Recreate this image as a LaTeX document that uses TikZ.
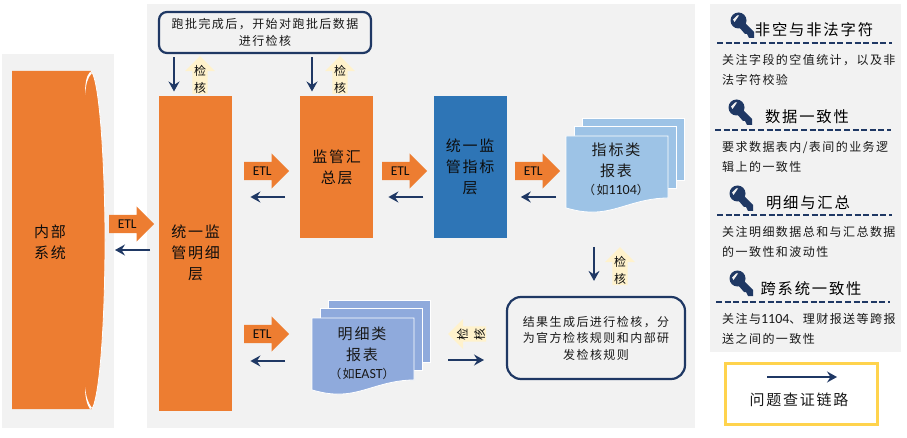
\documentclass[tikz,border=0pt]{standalone}
\usepackage{fontspec}
\setmainfont{Noto Sans CJK SC}[LetterSpace=12]
\newfontfamily\latfont{Carlito}
\usepackage{tikz}
\usetikzlibrary{arrows.meta,positioning,calc,shapes.arrows}
\definecolor{navy}{HTML}{1F3864}
\definecolor{layerorange}{HTML}{ED7D31}
\definecolor{layerblue}{HTML}{2E75B6}
\definecolor{panelgray}{HTML}{F2F2F2}
\definecolor{badgecream}{HTML}{FFF2CC}
\definecolor{sheetblue}{HTML}{9DC3E6}
\definecolor{sheetpurple}{HTML}{8FAADC}
\definecolor{legendyellow}{HTML}{FFD34D}
\newcommand{\blockfont}{\fontsize{15}{21}\selectfont}
\newcommand{\bodyfont}{\fontsize{12}{16.5}\selectfont}

\begin{document}
\begin{tikzpicture}[x=1pt,y=-1pt,node distance=60pt,
panel/.style={fill=panelgray,draw=none},
layer/.style={fill=layerorange,minimum width=73pt,minimum height=142.5pt,align=center,font=\blockfont,text=black!95,inner sep=0pt},
etl/.style={single arrow,fill=layerorange,anchor=tail,minimum height=45pt,minimum width=35pt,single arrow head extend=8.5pt,single arrow head indent=0pt,inner xsep=2pt,inner ysep=4.5pt,font=\latfont\fontsize{13.5}{13.5}\selectfont,text=black!95},
badge/.style={single arrow,shape border rotate=90,fill=badgecream,minimum height=38pt,minimum width=30pt,single arrow head extend=6pt,single arrow head indent=0pt,inner sep=0pt,align=center,font=\fontsize{12}{17}\selectfont,text=black!95},
link/.style={draw=navy,line width=1.8pt,-{Stealth[length=10pt,width=11pt,inset=3.5pt]}},
roundbox/.style={draw=navy,line width=2.2pt,rounded corners=8pt,fill=panelgray,align=center,font=\bodyfont,text=black!90},
head/.style={font=\fontsize{15.3}{18}\selectfont,text=black},
body/.style={anchor=west,align=left,font=\fontsize{12}{20.5}\selectfont,text=black!90,inner sep=0pt},
rulerline/.style={draw=navy,line width=1.8pt,dash pattern=on 6pt off 2.6pt},
sheets/.pic={
  \foreach \dx/\dy in {16/-18,8/-10}
    \fill[#1,draw=white,line width=.8pt] (\dx,\dy) rectangle ++(102,62);
  \fill[#1,draw=white,line width=.8pt] (0,0) -- (102,0) -- (102,62) .. controls (70,62) and (50,77) .. (25,76) .. controls (15,76) and (8,74) .. (0,72) -- cycle;
},
keyicon/.pic={
  \fill[navy] (14,10) -- (23,19) -- (23,25) -- (18,25) -- (16,21) -- (14,21) -- (7,13) -- cycle;
  \fill[navy] (7.5,7.5) circle (8);
  \fill[panelgray] (3.5,9) -- (8,2.5) -- (6,2.5) -- (2,6.5) -- cycle;
}]
\useasboundingbox (0,0) rectangle (907,438);
% grey panels
\fill[panel] (2,54) rectangle (114,428);
\fill[panel] (147,4) rectangle (695,428);
\fill[panel] (710,4) rectangle (901,352);
% internal system
\fill[layerorange] (12,71) -- (91,71) .. controls (100,80) and (105,170) .. (105,240) .. controls (105,320) and (100,395) .. (92,409) -- (12,409) -- cycle;
\draw[white,line width=.8pt] (91,71) .. controls (100,80) and (105,170) .. (105,240) .. controls (105,320) and (100,395) .. (92,409);
\fill[white] (90,72) .. controls (86,76) and (85,85) .. (85,95) .. controls (86,85) and (87,78) .. (92,73) -- cycle;
\fill[white] (85,387) .. controls (85,397) and (87,405) .. (90,409) -- (92,408) .. controls (88,403) and (86,396) .. (85,387) -- cycle;
\node[layer,fill=none] (sys) at (50,242) {内部\\系统};
% layers
\node[layer,minimum height=315pt,anchor=north west] (detail) at (159,95.5) {统一监\\管明细\\层};
\node[layer,anchor=north west] (summary) at (300,95.5) {监管汇\\总层};
\node[layer,fill=layerblue,right=60pt of summary] (metric) {统一监\\管指标\\层};
% report stacks
\pic at (566,136) {sheets=sheetblue};
\pic at (312,318) {sheets=sheetpurple};
\node[align=center,font=\blockfont,text=black!90,inner sep=0pt] (metricdoc) at (616,169) {指标类\\报表\\[-3pt]{\fontsize{12}{14}\selectfont （如{\latfont\fontsize{14}{14}\selectfont 1104}）}};
\node[align=center,font=\blockfont,text=black!90,inner sep=0pt] (detaildoc) at (362,353) {明细类\\报表\\[-3pt]{\fontsize{12}{14}\selectfont （如{\latfont\fontsize{14}{14}\selectfont EAST}）}};
% notes
\node[roundbox,minimum width=212pt,minimum height=41pt] (note) at (265,32.5) {跑批完成后，开始对跑批后数据\\进行检核};
\node[roundbox,rounded corners=14pt,minimum width=178pt,minimum height=82pt] (result) at (596,338) {结果生成后进行检核，分\\为官方检核规则和内部研\\发检核规则};
% etl arrows
\node[etl] (etlsys) at (109,224) {ETL};
\node[etl] (etla) at (244,171) {ETL};
\node[etl] (etlb) at (382,171) {ETL};
\node[etl] (etlc) at (515,171) {ETL};
\node[etl] (etld) at (244,334) {ETL};
% check badges
\node[badge] (checka) at (200,79) {检\\核};
\node[badge] (checkb) at (340,79) {检\\核};
\node[badge] (checkc) at (620,270) {检\\核};
\node[badge,rotate=90] (checkd) at (471,334) {检\\核};
% return arrows
\coordinate (rowa) at (0,197);
\coordinate (rowb) at (0,361);
\coordinate (rowc) at (0,250);
\coordinate (sysedge) at (105,250);
\draw[link,shorten <=15pt,shorten >=18pt] (summary.west |- rowa) -- (detail.east |- rowa);
\draw[link,shorten <=10pt,shorten >=15pt] (metric.west |- rowa) -- (summary.east |- rowa);
\coordinate (docedge) at (566,197);
\draw[link,shorten <=10pt,shorten >=14pt] (docedge) -- (metric.east |- rowa);
\coordinate (docedgeb) at (312,361);
\draw[link,shorten <=27pt,shorten >=18pt] (docedgeb) -- (detail.east |- rowb);
\draw[link,shorten <=9pt,shorten >=10pt] (detail.west |- rowc) -- (sysedge);
% check arrows
\draw[link,shorten <=3pt,shorten >=4pt] ([xshift=15pt]detail.north west |- note.south) -- ([xshift=15pt]detail.north west);
\draw[link,shorten <=3pt,shorten >=4pt] ([xshift=12pt]summary.north west |- note.south) -- ([xshift=12pt]summary.north west);
\coordinate (checktop) at (594,247);
\draw[link,shorten >=15pt] (checktop) -- (checktop |- result.north);
\coordinate (detailcheck) at (448,360);
\coordinate (resultcheck) at (484,360);
\draw[link] (detailcheck) -- (resultcheck);
% check rules
\foreach \yy/\xa/\xb in {43/717/892,130/715/891,215/717/892,302/716/890}
  \draw[rulerline] (\xa,\yy) -- (\xb,\yy);
\pic at (731,13) {keyicon};
\pic at (729,100) {keyicon};
\pic at (730,186) {keyicon};
\pic at (730,271) {keyicon};
\node[head] (rulea) at (814,30) {非空与非法字符};
\node[head] (ruleb) at (807,117) {数据一致性};
\node[head] (rulec) at (808,203) {明细与汇总};
\node[head] (ruled) at (811,289) {跨系统一致性};
\node[body] (bodya) at (722,70) {关注字段的空值统计，以及非\\法字符校验};
\node[body] (bodyb) at (722,157) {要求数据表内/表间的业务逻\\辑上的一致性};
\node[body] (bodyc) at (722,242) {关注明细数据总和与汇总数据\\的一致性和波动性};
\node[body] (bodyd) at (722,329) {关注与{\latfont\fontsize{14}{14}\selectfont 1104}、理财报送等跨报\\送之间的一致性};
% legend
\node[draw=legendyellow,line width=3pt,fill=white,minimum width=152pt,minimum height=61pt] (legend) at (801,393.5) {};
\node[font=\blockfont,text=black!90] (legendtext) at (799,400) {问题查证链路};
\coordinate (legenda) at (767,377);
\coordinate (legendb) at (837,377);
\draw[link] (legenda) -- (legendb);
\end{tikzpicture}
\end{document}
